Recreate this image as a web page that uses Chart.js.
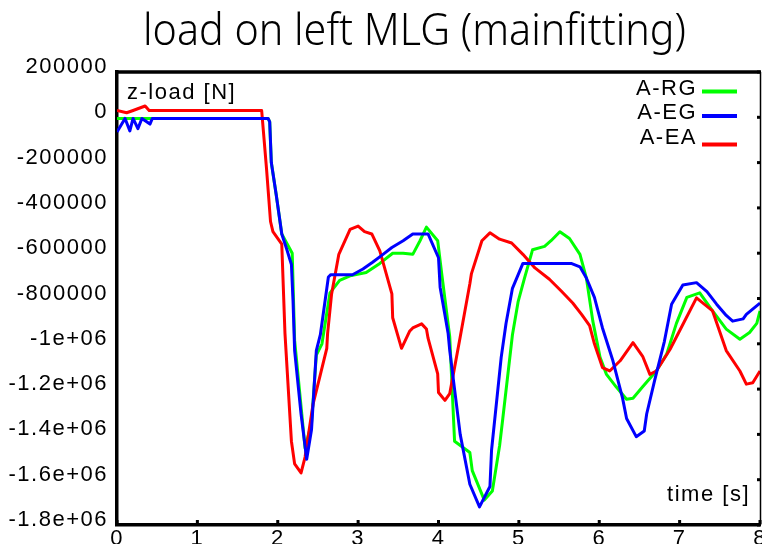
<!DOCTYPE html>
<html>
<head>
<meta charset="utf-8">
<script src="https://cdn.jsdelivr.net/npm/chart.js@4/dist/chart.umd.min.js"></script>
<style>
  html, body { margin: 0; padding: 0; background: #fff; }
  #wrap { width: 762px; height: 544px; }
</style>
</head>
<body>
<div id="wrap"><canvas id="loadChart" width="762" height="544"></canvas></div>
<script>
// series names, in legend order
const seriesNames = ["A-RG", "A-EG", "A-EA"];

// A-RG (green)
const timeRG = [0, 1.88, 1.90, 1.92, 1.98, 2.05, 2.15, 2.18, 2.21, 2.34, 2.42, 2.48, 2.55, 2.65, 2.77, 2.90, 3.10, 3.27, 3.43, 3.56, 3.68, 3.77, 3.85, 3.99, 4.04, 4.14, 4.20, 4.39, 4.42, 4.57, 4.67, 4.76, 4.80, 4.92, 4.99, 5.07, 5.17, 5.32, 5.40, 5.51, 5.63, 5.76, 5.84, 5.92, 6.01, 6.09, 6.21, 6.34, 6.42, 6.54, 6.71, 6.84, 6.96, 7.09, 7.25, 7.41, 7.58, 7.75, 7.87, 7.96, 8.0];
const loadRG = [-5000, -5000, -20000, -200000, -340000, -515000, -580000, -600000, -985000, -1460000, -1350000, -1050000, -1000000, -775000, -720000, -700000, -685000, -645000, -600000, -600000, -605000, -545000, -485000, -545000, -690000, -970000, -1430000, -1480000, -1560000, -1690000, -1650000, -1450000, -1330000, -960000, -815000, -710000, -585000, -570000, -545000, -505000, -535000, -605000, -710000, -900000, -1060000, -1135000, -1190000, -1245000, -1240000, -1190000, -1120000, -1045000, -910000, -795000, -775000, -855000, -935000, -980000, -950000, -910000, -855000];

// A-EG (blue)
const timeEG = [0, 0.10, 0.16, 0.20, 0.26, 0.31, 0.41, 0.44, 1.88, 1.90, 1.92, 1.98, 2.05, 2.11, 2.17, 2.19, 2.21, 2.29, 2.36, 2.42, 2.48, 2.53, 2.63, 2.66, 2.93, 3.06, 3.18, 3.31, 3.42, 3.56, 3.68, 3.87, 4.00, 4.02, 4.12, 4.14, 4.27, 4.39, 4.51, 4.64, 4.66, 4.78, 4.84, 4.92, 5.05, 5.65, 5.76, 5.84, 5.94, 6.04, 6.17, 6.29, 6.34, 6.46, 6.56, 6.59, 6.69, 6.81, 6.90, 7.04, 7.21, 7.34, 7.46, 7.58, 7.66, 7.79, 7.83, 8.0];
const loadEG = [-65000, -5000, -60000, -5000, -50000, -5000, -30000, -5000, -5000, -20000, -200000, -340000, -515000, -580000, -650000, -810000, -1030000, -1310000, -1510000, -1380000, -1030000, -960000, -705000, -695000, -695000, -670000, -640000, -605000, -575000, -545000, -515000, -515000, -620000, -750000, -955000, -1030000, -1400000, -1620000, -1720000, -1630000, -1470000, -1060000, -910000, -755000, -645000, -645000, -660000, -710000, -795000, -930000, -1075000, -1240000, -1330000, -1410000, -1385000, -1310000, -1160000, -990000, -825000, -740000, -730000, -770000, -825000, -875000, -900000, -890000, -870000, -820000];

// A-EA (red)
const timeEA = [0, 0.12, 0.20, 0.35, 0.40, 1.80, 1.86, 1.91, 1.94, 2.05, 2.09, 2.17, 2.21, 2.29, 2.34, 2.44, 2.52, 2.61, 2.62, 2.67, 2.76, 2.90, 3.00, 3.08, 3.17, 3.27, 3.42, 3.43, 3.54, 3.64, 3.68, 3.79, 3.85, 3.87, 3.99, 4.00, 4.08, 4.14, 4.27, 4.39, 4.41, 4.54, 4.64, 4.76, 4.91, 5.05, 5.20, 5.38, 5.53, 5.67, 5.78, 5.88, 5.94, 6.04, 6.13, 6.26, 6.42, 6.54, 6.63, 6.71, 6.88, 7.04, 7.21, 7.41, 7.58, 7.75, 7.83, 7.91, 8.0];
const loadEA = [30000, 20000, 30000, 50000, 30000, 30000, -225000, -460000, -505000, -560000, -955000, -1430000, -1530000, -1570000, -1500000, -1265000, -1150000, -1020000, -955000, -780000, -605000, -495000, -480000, -505000, -515000, -590000, -780000, -885000, -1020000, -945000, -930000, -912000, -935000, -975000, -1133000, -1215000, -1250000, -1220000, -970000, -735000, -690000, -545000, -510000, -538000, -555000, -605000, -665000, -715000, -768000, -820000, -870000, -920000, -1000000, -1105000, -1120000, -1075000, -995000, -1055000, -1135000, -1120000, -1025000, -915000, -797000, -855000, -1030000, -1120000, -1178000, -1172000, -1120000];

// axis ticks
const yTickValues = [200000, 0, -200000, -400000, -600000, -800000, -1000000, -1200000, -1400000, -1600000, -1800000];
const yTickLabels = ["200000", "0", "-200000", "-400000", "-600000", "-800000", "-1e+06", "-1.2e+06", "-1.4e+06", "-1.6e+06", "-1.8e+06"];
const xTickLabels = ["0", "1", "2", "3", "4", "5", "6", "7", "8"];

const lineColors = ["#00ff00", "#0000ff", "#ff0000"];

function toPoints(xs, ys) {
    return xs.map((t, i) => ({ x: t, y: ys[i] }));
}

const tickFont = { family: "'Liberation Sans', Arial, sans-serif", size: 22 };

// gnuplot's text is a bit more spread out than the canvas default
const spacing = {
    id: 'spacing',
    beforeDraw(chart) { chart.ctx.letterSpacing = '1.5px'; },
    afterDraw(chart) { chart.ctx.letterSpacing = '0px'; }
};

// frame, inward ticks, axis labels, legend, title
const gnuplotDecor = {
    id: 'gnuplotDecor',
    afterDraw(chart) {
        const ctx = chart.ctx;
        const a = chart.chartArea;
        const xs = chart.scales.x, ys = chart.scales.y;
        ctx.save();
        ctx.strokeStyle = '#000';
        ctx.lineCap = 'butt';
        // top border
        ctx.lineWidth = 3.5;
        ctx.beginPath();
        ctx.moveTo(a.left - 2, a.top);
        ctx.lineTo(a.right + 1, a.top);
        ctx.stroke();
        // right border
        ctx.lineWidth = 1.5;
        ctx.beginPath();
        ctx.moveTo(a.right + 0.5, a.top);
        ctx.lineTo(a.right + 0.5, a.bottom);
        ctx.stroke();
        // inward ticks on right side
        ctx.fillStyle = '#000';
        yTickValues.forEach(v => {
            const py = ys.getPixelForValue(v);
            ctx.fillRect(a.right - 3, py - 1.5, 3, 3);
        });
        // inward ticks on bottom
        xTickLabels.forEach((lab, i) => {
            const px = xs.getPixelForValue(i);
            ctx.fillRect(px - 1.5, a.bottom - 5, 3, 4);
        });

        // axis labels inside the plot
        ctx.letterSpacing = '1.5px';
        ctx.font = "22px 'Liberation Sans', Arial, sans-serif";
        ctx.textBaseline = 'middle';
        ctx.textAlign = 'left';
        ctx.fillText('z-load [N]', a.left + 10, 93);
        ctx.textAlign = 'right';
        ctx.fillText('time [s]', a.right - 10, 495);

        // legend: text then line sample
        const rowsY = [88.5, 113, 138];
        const lineY = [91.5, 116, 144.5];
        seriesNames.forEach((name, i) => {
            ctx.fillStyle = '#000';
            ctx.textAlign = 'right';
            ctx.fillText(name, 697, rowsY[i]);
            ctx.strokeStyle = lineColors[i];
            ctx.lineWidth = 4;
            ctx.beginPath();
            ctx.moveTo(702, lineY[i]);
            ctx.lineTo(737, lineY[i]);
            ctx.stroke();
        });

        // title
        const title = 'load on left MLG (mainfitting)';
        ctx.letterSpacing = '0px';
        ctx.fillStyle = '#000';
        ctx.font = "300 44px 'Noto Sans', 'Open Sans', sans-serif";
        ctx.textBaseline = 'alphabetic';
        ctx.textAlign = 'left';
        const w = ctx.measureText(title).width;
        const sx = 543 / w;
        ctx.translate(143, 45);
        ctx.scale(sx, 1);
        ctx.fillText(title, 0, 0);
        ctx.restore();
    }
};

const ctxMain = document.getElementById('loadChart').getContext('2d');
const loadChart = new Chart(ctxMain, {
    type: 'line',
    data: {
        datasets: [
            { label: seriesNames[0], data: toPoints(timeRG, loadRG), borderColor: lineColors[0], order: 2 },
            { label: seriesNames[1], data: toPoints(timeEG, loadEG), borderColor: lineColors[1], order: 0 },
            { label: seriesNames[2], data: toPoints(timeEA, loadEA), borderColor: lineColors[2], order: 1 }
        ]
    },
    options: {
        responsive: false,
        animation: false,
        elements: {
            line: { borderWidth: 3, tension: 0, fill: false, borderJoinStyle: 'round' },
            point: { radius: 0, hoverRadius: 0 }
        },
        layout: { padding: { top: 72, right: 2, left: 0, bottom: 0 } },
        scales: {
            x: {
                type: 'linear',
                min: 0,
                max: 8,
                grid: { display: false, drawTicks: false },
                border: { display: true, color: '#000', width: 3.5 },
                ticks: {
                    stepSize: 1,
                    padding: 1,
                    color: '#000',
                    font: tickFont,
                    maxRotation: 0,
                    callback: (v) => xTickLabels[v]
                },
                afterFit: (scale) => {
                    scale.height = 19;
                    scale.paddingLeft = 0;
                    scale.paddingRight = 0;
                }
            },
            y: {
                type: 'linear',
                min: -1800000,
                max: 200000,
                grid: { display: false, drawTicks: false },
                border: { display: true, color: '#000', width: 3.5 },
                ticks: {
                    stepSize: 200000,
                    padding: 9,
                    labelOffset: -5,
                    color: '#000',
                    font: tickFont,
                    callback: (v) => {
                        const k = yTickValues.indexOf(v);
                        return k >= 0 ? yTickLabels[k] : '';
                    }
                },
                afterFit: (scale) => {
                    scale.width = 117;
                    scale.paddingTop = 0;
                    scale.paddingBottom = 0;
                }
            }
        },
        plugins: {
            legend: { display: false },
            title: { display: false },
            tooltip: { enabled: false }
        }
    },
    plugins: [spacing, gnuplotDecor]
});
</script>
</body>
</html>
